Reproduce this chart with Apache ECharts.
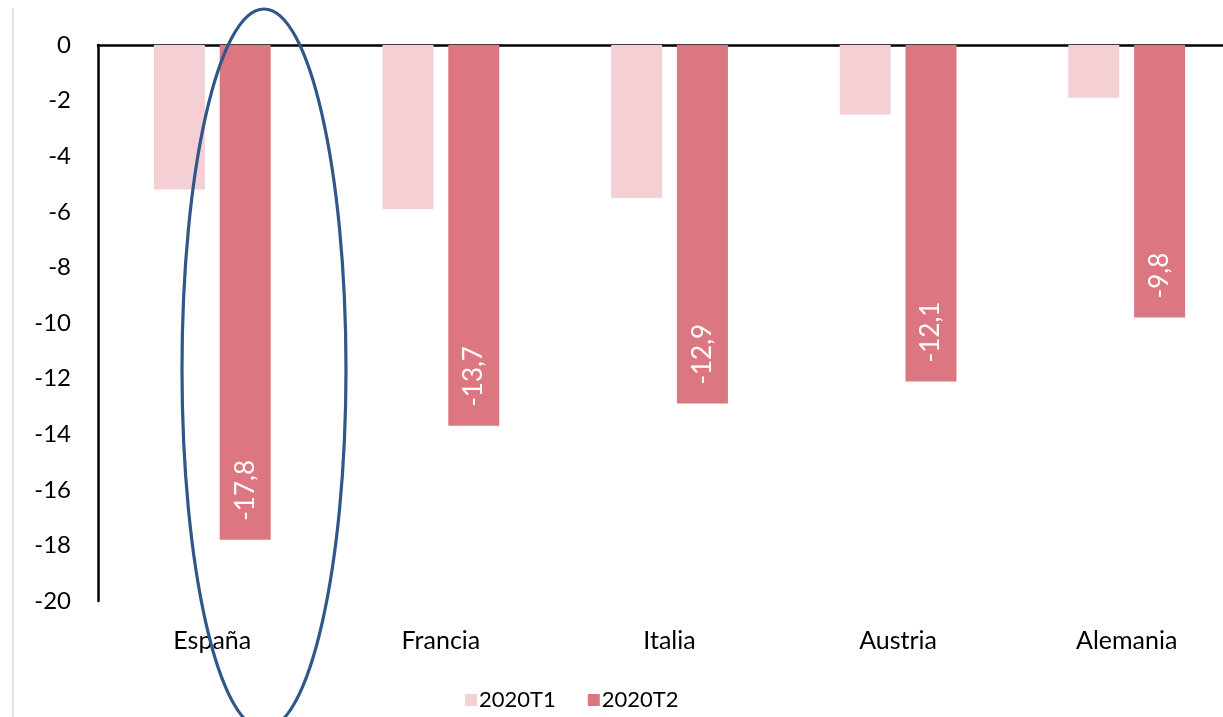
<!DOCTYPE html>
<html><head><meta charset="utf-8">
<script src="https://cdn.jsdelivr.net/npm/echarts@6/dist/echarts.min.js"></script>
<style>html,body{margin:0;padding:0;background:#fff;overflow:hidden;width:1223px;height:717px}#c{width:1241px;height:717px}</style>
</head><body><div id="c"></div>
<script>
const categories = ['España', 'Francia', 'Italia', 'Austria', 'Alemania'];
const t1 = [-5.2, -5.9, -5.5, -2.5, -1.9];
const t2 = [-17.8, -13.7, -12.9, -12.1, -9.8];
const seriesNames = ['2020T1', '2020T2'];
const yTicks = {min: -20, max: 0, interval: 2};

const FONT = 'Lato';
const chart = echarts.init(document.getElementById('c'), null, {renderer: 'canvas'});
chart.setOption({
  animation: false,
  textStyle: {fontFamily: FONT},
  grid: {left: 98, right: 0, top: 45, bottom: 116, containLabel: false},
  legend: {
    data: seriesNames, bottom: 1, left: 460, itemWidth: 12, itemHeight: 12, itemGap: 32,
    icon: 'rect', textStyle: {fontSize: 22, color: '#000', fontFamily: FONT, padding: [0,0,0,-3]}
  },
  xAxis: [
    {type: 'category', data: categories, position: 'bottom',
     axisLine: {show: false, onZero: false}, axisTick: {show: false},
     axisLabel: {fontSize: 25, color: '#000', margin: 27}},
    {type: 'category', data: categories, position: 'top',
     axisLine: {show: true, onZero: false, lineStyle: {color: '#000', width: 2.5}},
     axisTick: {show: false}, axisLabel: {show: false}}
  ],
  yAxis: {type: 'value', min: yTicks.min, max: yTicks.max, interval: yTicks.interval,
    axisLine: {show: true, lineStyle: {color: '#000', width: 2.5}}, axisTick: {show: false},
    splitLine: {show: false},
    axisLabel: {fontSize: 24, color: '#000', margin: 27}},
  series: [
    {name: seriesNames[0], type: 'bar', data: t1, barWidth: 51, barGap: '29%',
     itemStyle: {color: '#f4d0d5'}},
    {name: seriesNames[1], type: 'bar', data: t2, barWidth: 51,
     itemStyle: {color: '#dc7681'},
     label: {show: true, position: 'insideBottom', rotate: 90, align: 'left', verticalAlign: 'middle',
       distance: 19, color: '#fff', fontSize: 26, fontFamily: FONT,
       formatter: p => String(p.value).replace('.', ',')}}
  ],
  graphic: [
    {type: 'line', shape: {x1: 13, y1: 8, x2: 13, y2: 717}, style: {stroke: '#c8c8c8', lineWidth: 1}, z: 10},
    {type: 'ellipse', shape: {cx: 264, cy: 369, rx: 82, ry: 360},
     style: {fill: 'none', stroke: '#2f5888', lineWidth: 3.2}, z: 100}
  ]
});
</script></body></html>
